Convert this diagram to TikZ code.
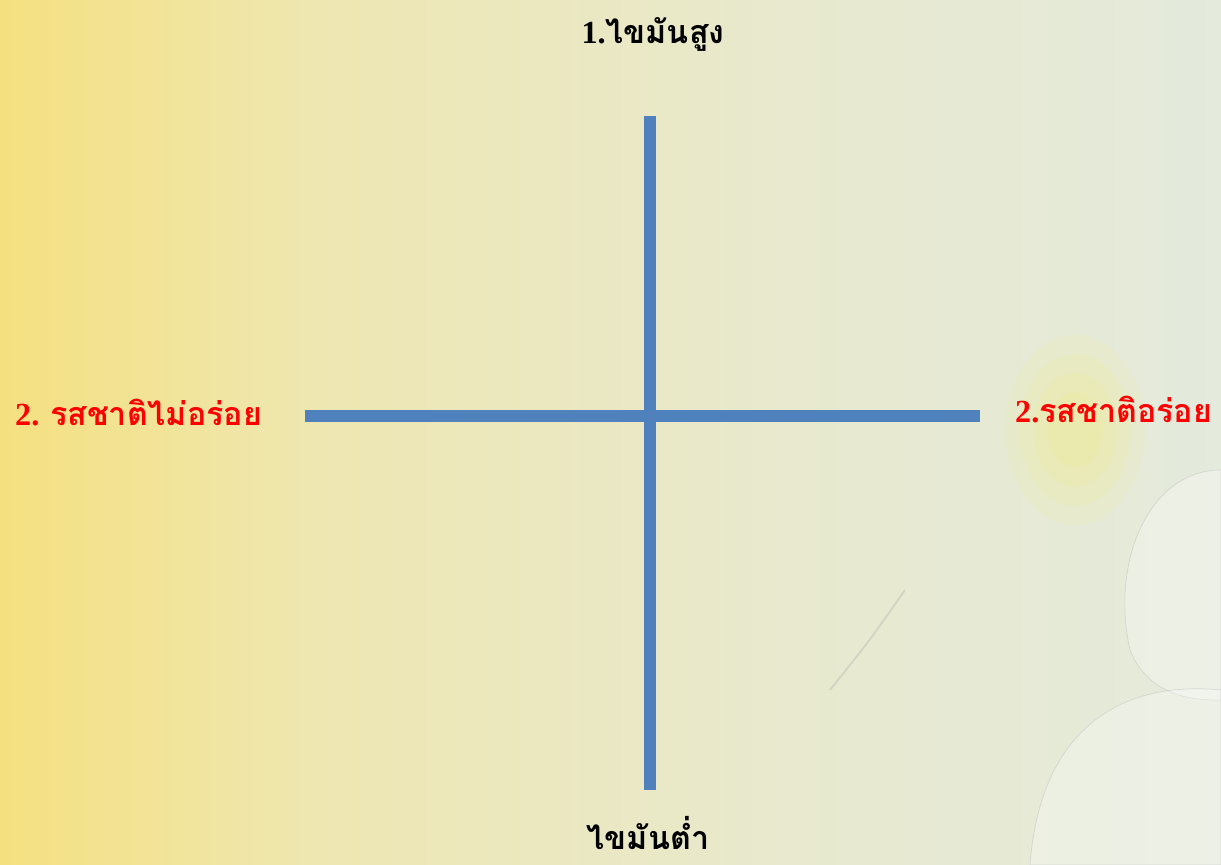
\documentclass[tikz,border=0pt]{standalone}
\usepackage{fontspec}
\setmainfont{Liberation Serif}
\newfontfamily\thaifont[Script=Thai]{Loma}
\usepackage{tikz}
\usetikzlibrary{positioning}

\definecolor{axisblue}{HTML}{4F81BD}
\definecolor{labelred}{HTML}{FF0000}
\definecolor{bgyellow}{RGB}{245,224,128}
\definecolor{bgcream}{RGB}{238,231,178}
\definecolor{bgpale}{RGB}{232,233,205}
\definecolor{bggrey}{RGB}{228,234,220}

\begin{document}
\begin{tikzpicture}[x=0.03cm, y=-0.03cm,
  axisline/.style={draw=axisblue,line width=0.36cm},
  lbl/.style={inner sep=0pt,font=\fontsize{27.5}{32}\selectfont\bfseries},
  petal/.style={fill=white,draw=black!25,line width=0.6pt,fill opacity=0.3,draw opacity=0.5}]
  \useasboundingbox (0,0) rectangle (1221,865);
  % background
  \shade[left color=bgyellow,right color=bgcream] (0,0) rectangle (320,865);
  \shade[left color=bgcream,right color=bgpale] (320,0) rectangle (760,865);
  \shade[left color=bgpale,right color=bggrey] (760,0) rectangle (1221,865);
  \foreach \r in {1,0.8,0.6,0.4}
    \fill[yellow!70,opacity=0.08] (1075,430) ellipse ({70*\r} and {95*\r});
  \path[petal] (1221,470) .. controls (1150,470) and (1110,560) .. (1130,650)
    .. controls (1150,700) and (1200,700) .. (1221,700) -- cycle;
  \path[petal] (1221,690) .. controls (1120,680) and (1040,730) .. (1030,865)
    -- (1221,865) -- cycle;
  \draw[black!30,line width=1.5pt,opacity=0.4] (905,590) .. controls (870,640) .. (830,690);

  % axes
  \coordinate (vtop) at (650,116);
  \coordinate (vbot) at (650,790);
  \coordinate (hleft) at (305,416);
  \coordinate (hright) at (980,416);
  \draw[axisline] (vtop) -- (vbot);
  \draw[axisline] (hleft) -- (hright);

  % labels
  \node[lbl,anchor=base] (highfat) at (653,43) {1.{\thaifont ไขมันสูง}};
  \node[lbl,anchor=base] (lowfat) at (648,849) {\thaifont ไขมันต่ำ};
  \node[lbl,text=labelred,anchor=base west] (nottasty) at (15,425) {2. {\thaifont รสชาติไม่อร่อย}};
  \node[lbl,text=labelred,anchor=base west] (tasty) at (1015,422) {2.{\thaifont รสชาติอร่อย}};
\end{tikzpicture}
\end{document}
